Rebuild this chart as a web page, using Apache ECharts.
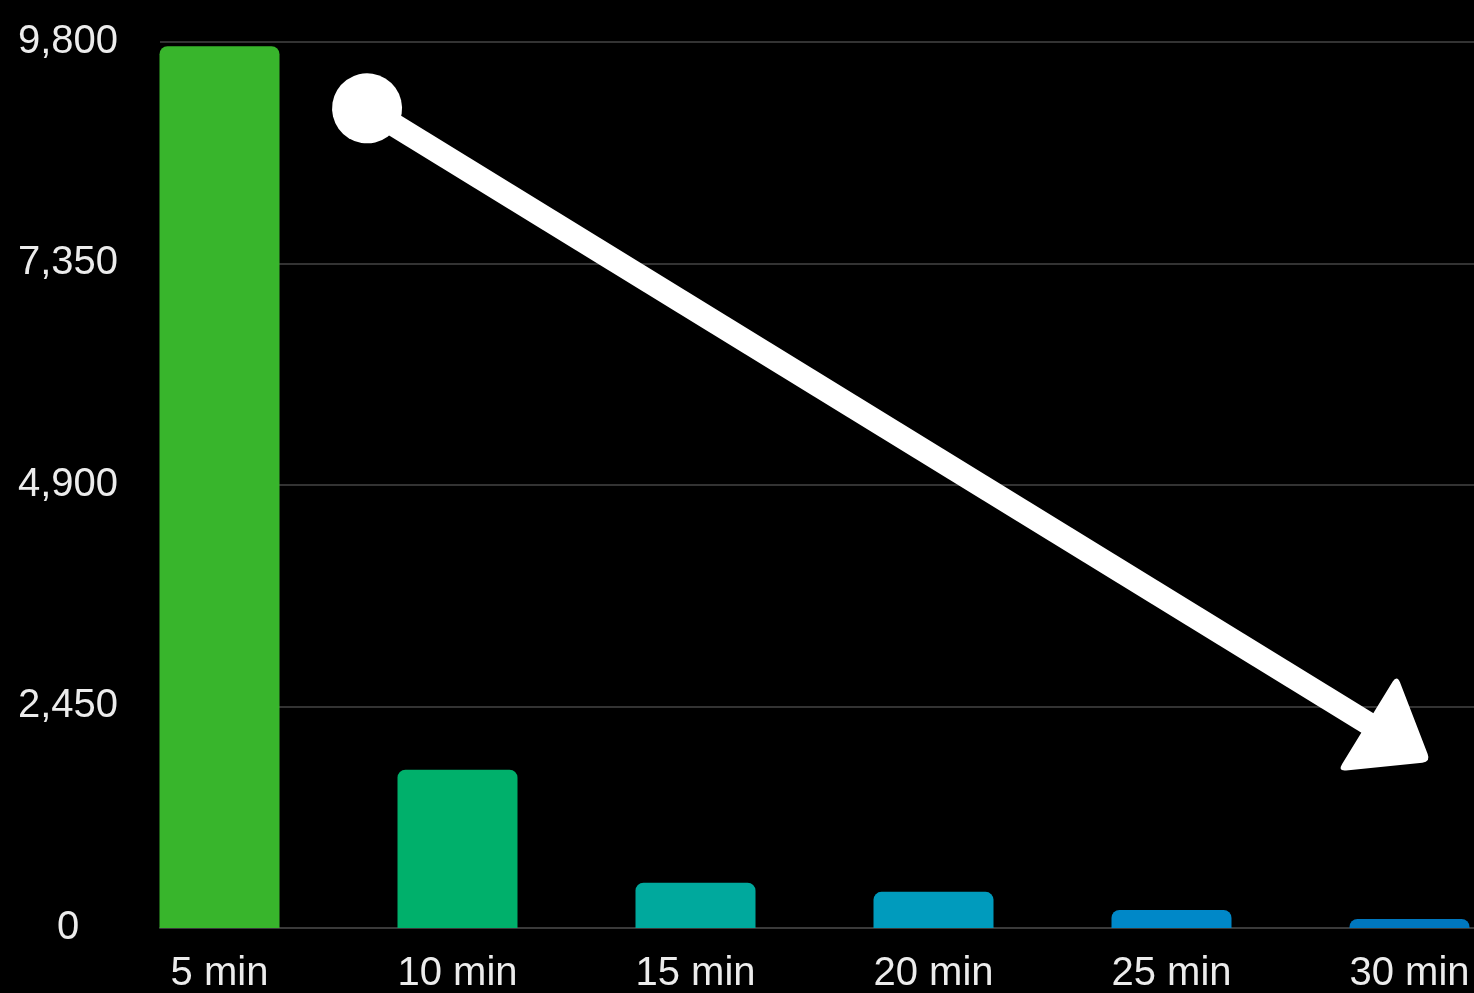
<!DOCTYPE html>
<html>
<head>
<meta charset="utf-8">
<script src="https://cdn.jsdelivr.net/npm/echarts@6/dist/echarts.min.js"></script>
<style>
html,body{margin:0;padding:0;background:#000;}
#chart{width:1474px;height:993px;}
</style>
</head>
<body>
<div id="chart"></div>
<script>
const categories = ['5 min', '10 min', '15 min', '20 min', '25 min', '30 min'];
const values = [9750, 1750, 500, 400, 200, 100];
const barColors = ['#38b52c', '#00b06b', '#00a99d', '#009bbd', '#0088c8', '#0077be'];
const yTicks = [0, 2450, 4900, 7350, 9800];
// trend arrow annotation, in data units (x = category index, y = value)
const arrowStart = [0.62, 9063];
const arrowEnd = [4.95, 2062];

const yMax = yTicks[yTicks.length - 1];
const yInterval = yTicks[1] - yTicks[0];
const labelFont = 'Liberation Sans, Arial, sans-serif';

const triPath = 'path://M58.3,6.4 L102.2,64.6 Q107,71 99,71 L8,71 Q0,71 4.8,64.6 L48.7,6.4 Q53.5,0 58.3,6.4 Z';

const chart = echarts.init(document.getElementById('chart'), null, {renderer: 'canvas'});
chart.setOption({
  backgroundColor: '#000000',
  animation: false,
  grid: [
    {left: 100.5, width: 1428, top: 41.7, bottom: 65, containLabel: false, outerBoundsMode: 'none'},
    {left: 160, right: 0, top: 41.7, bottom: 65, containLabel: false, outerBoundsMode: 'none'}
  ],
  xAxis: [
    {
      type: 'category', gridIndex: 0, data: categories,
      axisLine: {show: false}, axisTick: {show: false}, splitLine: {show: false},
      axisLabel: {color: '#ececec', fontSize: 40, fontFamily: labelFont, margin: 26, interval: 0}
    },
    {
      type: 'value', gridIndex: 0, position: 'top', show: false, min: -0.5, max: 5.5
    },
    {
      type: 'value', gridIndex: 1, show: true, min: 0, max: 1,
      axisLine: {show: true, onZero: false, lineStyle: {color: '#3a3a3a', width: 2}},
      axisTick: {show: false}, axisLabel: {show: false}, splitLine: {show: false}
    }
  ],
  yAxis: [
    {
      type: 'value', gridIndex: 0, min: 0, max: yMax, interval: yInterval, show: false
    },
    {
      type: 'value', gridIndex: 1, min: 0, max: yMax, interval: yInterval,
      axisLine: {show: false}, axisTick: {show: false},
      splitLine: {show: true, lineStyle: {color: '#333333', width: 2}},
      axisLabel: {
        color: '#ececec', fontSize: 40, fontFamily: labelFont, margin: 92, align: 'center',
        padding: [4, 0, 0, 0],
        formatter: function (v) { return v.toLocaleString('en-US'); }
      }
    }
  ],
  series: [
    {
      type: 'bar', xAxisIndex: 0, yAxisIndex: 0,
      data: values.map(function (v, i) { return {value: v, itemStyle: {color: barColors[i]}}; }),
      barWidth: 120,
      itemStyle: {borderRadius: [8, 8, 0, 0]},
      z: 3
    },
    {
      type: 'line', xAxisIndex: 1, yAxisIndex: 0, data: [],
      silent: true,
      z: 5,
      markLine: {
        silent: true,
        animation: false,
        label: {show: false},
        emphasis: {disabled: true},
        lineStyle: {color: '#ffffff', width: 23, type: 'solid', cap: 'butt'},
        data: [[
          {coord: arrowStart, symbol: 'circle', symbolSize: 70},
          {coord: arrowEnd, symbol: triPath, symbolSize: [107, 71]}
        ]]
      }
    }
  ]
});
</script>
</body>
</html>
